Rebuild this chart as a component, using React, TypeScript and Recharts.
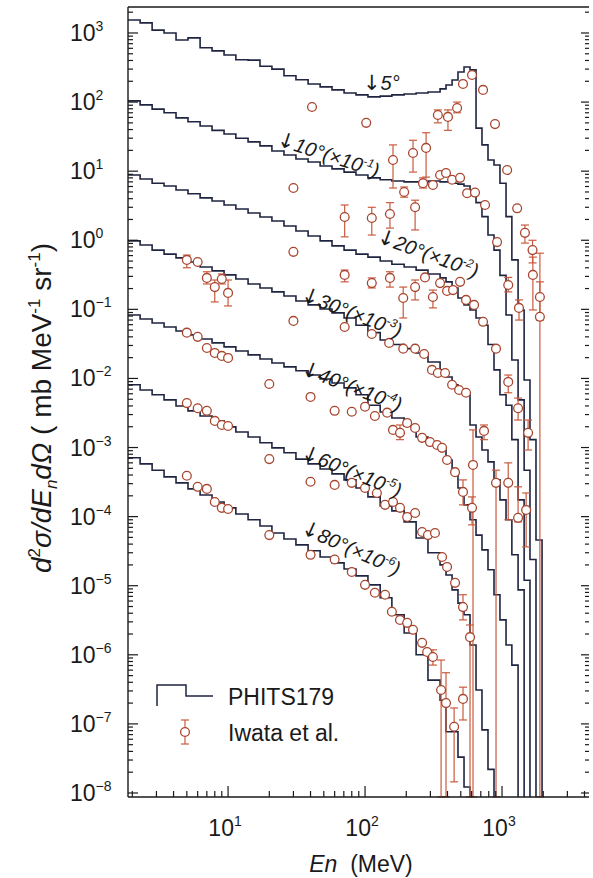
import React from 'react';
import { ComposedChart, Line, Scatter, XAxis, YAxis, ErrorBar } from 'recharts';

// bin edges of the PHITS histograms (MeV)
const EDGES = [1.86, 2.28, 2.79, 3.41, 4.17, 5.1, 6.25, 7.64, 9.35, 11.4, 14.0, 17.1, 20.9, 25.6, 31.3, 38.4, 47.0, 57.4, 70.3, 85.9, 105, 129, 157, 193, 236, 288, 353, 390, 432, 477, 528, 584, 646, 714, 790, 874, 966, 1070, 1180, 1310, 1450, 1600, 1770, 1960];

// PHITS179 histograms (mb/MeV/sr), scaled as labelled
const CALC_5 = [1540, 1400, 1100, 1000, 790, 850, 610, 550, 480, 410, 405, 330, 300, 240, 210, 183, 166, 150, 135, 127, 119, 122, 127, 131, 135, 140, 155, 177, 209, 273, 322, 292, 42, 24, 14.5, 12.3, 6.7, 2.2, 0.52, 0.098, 0.0095, 0.0013, 4.6e-5];
const CALC_10 = [104, 91, 79, 70, 59, 52, 45, 39, 34.5, 30, 26.5, 23.2, 19.6, 17.1, 15.0, 13.6, 11.9, 10.8, 9.7, 8.8, 8.0, 7.5, 7.2, 7.0, 7.0, 7.2, 7.0, 7.0, 6.7, 6.5, 6.1, 5.0, 3.5, 2.2, 1.19, 0.72, 0.31, 0.083, 0.0185, 0.0049, 4.7e-4, 2.4e-5];
const CALC_20 = [8.8, 7.7, 6.7, 6.1, 5.35, 4.7, 4.1, 3.7, 3.24, 2.84, 2.48, 2.17, 1.9, 1.61, 1.36, 1.15, 0.98, 0.83, 0.72, 0.63, 0.57, 0.5, 0.45, 0.41, 0.37, 0.325, 0.285, 0.25, 0.204, 0.146, 0.116, 0.098, 0.075, 0.059, 0.031, 0.0133, 0.0058, 0.0041, 0.0013, 1.75e-4, 1.2e-5];
const CALC_30 = [0.98, 0.855, 0.72, 0.63, 0.555, 0.485, 0.41, 0.36, 0.315, 0.275, 0.233, 0.204, 0.179, 0.156, 0.132, 0.116, 0.101, 0.089, 0.075, 0.059, 0.046, 0.036, 0.031, 0.027, 0.0234, 0.0173, 0.0133, 0.0105, 0.0081, 0.0068, 0.0058, 0.00212, 0.00142, 9.2e-4, 6.2e-4, 3.4e-4, 1.75e-4, 9.0e-5, 2.8e-5, 8.7e-6];
const CALC_40 = [0.083, 0.0726, 0.0635, 0.0556, 0.0486, 0.0427, 0.0373, 0.0327, 0.0286, 0.025, 0.0219, 0.0191, 0.0167, 0.0147, 0.0129, 0.0112, 0.0098, 0.0086, 0.0073, 0.0058, 0.0041, 0.00327, 0.00268, 0.00205, 0.00142, 0.00109, 9.2e-4, 6.6e-4, 4.4e-4, 2.6e-4, 1.48e-4, 9.0e-5, 5.4e-5, 3.3e-5, 1.7e-5, 7.4e-6, 3.2e-6, 1.39e-6, 7.1e-7];
const CALC_60 = [0.0081, 0.0068, 0.0058, 0.0049, 0.004, 0.00339, 0.00286, 0.00243, 0.00199, 0.00168, 0.00142, 0.00117, 9.9e-4, 8.4e-4, 6.8e-4, 5.8e-4, 4.9e-4, 4.15e-4, 3.4e-4, 2.6e-4, 1.93e-4, 1.43e-4, 1.21e-4, 8.4e-5, 4.9e-5, 3.0e-5, 2.0e-5, 1.43e-5, 8.7e-6, 5.6e-6, 3.8e-6, 1.39e-6, 3.1e-7, 8.2e-8, 2.2e-8];
const CALC_80 = [7.1e-4, 5.8e-4, 4.7e-4, 3.76e-4, 3.08e-4, 2.52e-4, 2.06e-4, 1.63e-4, 1.34e-4, 1.09e-4, 9.0e-5, 7.3e-5, 5.8e-5, 4.75e-5, 3.9e-5, 3.2e-5, 2.6e-5, 2.14e-5, 1.75e-5, 1.39e-5, 1.03e-5, 6.7e-6, 3.8e-6, 2.07e-6, 1.0e-6, 4.3e-7, 2.2e-7, 7.7e-8, 7.7e-8, 3.3e-8, 1.22e-8];

// Iwata et al. points: [E, value, lower, upper]; B = error bar down to zero
type Pt = [number, number, number?, number?];
const B = 8.8e-9;

const EXP_5: Pt[] = [[41, 85], [102, 50], [340, 65, 50, 77], [403, 61, 39, 77], [470, 82, 70, 100], [519, 183], [604, 247], [727, 150], [889, 48], [1090, 10.4], [1290, 2.9], [1470, 1.28, 0.91, 1.66], [1670, 0.72, 0.47, 1.0], [1890, 0.151, 0.07, 0.65]];
const EXP_10: Pt[] = [[30, 5.7], [71, 2.17, 1.12, 3.24], [112, 2.1, 1.19, 3.0], [152, 2.4, 1.5, 3.5], [160, 14.5, 5.7, 24], [193, 5.0, 4.2, 5.9], [224, 18.3, 9.7, 28], [232, 3.0, 1.41, 3.8], [265, 6.7, 5.7, 8.0], [279, 21.7, 8.2, 36], [313, 6.3], [353, 8.8], [390, 9.4], [432, 7.5], [494, 8.0], [556, 4.8], [635, 4.9], [752, 3.24], [920, 0.94], [1110, 0.225, 0.179, 0.29], [1330, 0.105, 0.07, 0.137], [1680, 0.315, 0.098, 0.57], [1890, 0.078, B, 0.25]];
const EXP_20: Pt[] = [[30, 0.68], [71, 0.315, 0.25, 0.37], [112, 0.24, 0.204, 0.285], [152, 0.285, 0.21, 0.35], [190, 0.146, 0.075, 0.21], [232, 0.21, 0.137, 0.266], [274, 0.29], [313, 0.151, 0.105, 0.19], [353, 0.24], [397, 0.185], [439, 0.19], [494, 0.25], [546, 0.137], [625, 0.116], [727, 0.066], [904, 0.027], [1110, 0.0089, 0.0062, 0.0112], [1310, 0.0037, 0.0025, 0.0052], [1550, 0.00163, 9.2e-4, 0.0025]];
const EXP_30: Pt[] = [[5, 0.52, 0.4, 0.61], [6, 0.485], [7, 0.285, 0.233, 0.35], [8, 0.21, 0.128, 0.266], [9, 0.275, 0.233, 0.325], [10, 0.173, 0.112, 0.266], [30, 0.068], [71, 0.0556], [112, 0.044], [150, 0.0327], [190, 0.027], [232, 0.027], [270, 0.0226], [308, 0.0133], [340, 0.012], [384, 0.012], [432, 0.0081], [486, 0.0068], [546, 0.0062], [614, 5.6e-4, B, 0.0018], [739, 0.00174, 0.0013, 0.00212], [904, 3.08e-4, B, 4.7e-4], [1110, 3.08e-4, 9.0e-5, 6.0e-4], [1310, 9.6e-5, 8.4e-5, 2.7e-4], [1500, 1.25e-4, 3.65e-5, 2.2e-4]];
const EXP_40: Pt[] = [[5, 0.046], [6, 0.04], [7, 0.0276], [8, 0.0234], [9, 0.0212], [10, 0.0198], [20, 0.0083], [40, 0.0054], [60, 0.0034], [80, 0.0033], [100, 0.0039], [118, 0.00286], [145, 0.0032], [160, 0.0018], [180, 0.00163, 0.0013, 0.00212], [203, 0.00227], [232, 0.00192], [261, 0.00138], [298, 0.0012], [336, 0.00109], [365, 9.9e-4], [397, 6.6e-4], [454, 4.4e-4], [519, 2.28e-4, 1.48e-4, 3.4e-4], [604, 1.34e-4, 7.6e-5, 1.93e-4]];
const EXP_60: Pt[] = [[5, 0.0044], [6, 0.0037], [7, 0.0034], [8, 0.00243], [9, 0.00212], [10, 0.00205], [20, 6.8e-4], [40, 3.2e-4], [60, 2.88e-4], [80, 3.08e-4], [100, 2.6e-4], [122, 2.2e-4], [140, 1.48e-4], [160, 1.63e-4], [180, 1.34e-4], [203, 9.9e-5], [232, 1.13e-4], [261, 6.0e-5], [288, 5.4e-5], [324, 5.8e-5], [365, 2.6e-5], [397, 1.87e-5], [454, 1.1e-5], [519, 4.9e-6, 3.2e-6, 7.4e-6], [584, 1.8e-6, B, 2.7e-6]];
const EXP_80: Pt[] = [[5, 3.9e-4], [6, 2.7e-4], [7, 2.52e-4], [8, 1.63e-4], [9, 1.34e-4], [10, 1.29e-4], [20, 5.4e-5], [40, 2.8e-5], [60, 2.4e-5], [80, 1.58e-5], [100, 1.03e-5], [118, 7.9e-6], [140, 7.4e-6], [157, 4.2e-6], [180, 3.2e-6], [203, 2.9e-6], [224, 2.3e-6], [261, 1.49e-6], [284, 1.1e-6], [313, 9.3e-7, 7.1e-7, 1.18e-6], [359, 3.1e-7, B, 8.4e-7], [390, 2.0e-7, B, 5.5e-7], [447, 9.1e-8, 1.45e-8, 1.7e-7], [519, 2.3e-7, 1.14e-7, 3.4e-7]];

const ANGLES = ['5°', '10°', '20°', '30°', '40°', '60°', '80°'];
const SCALE_EXP = ['', '-1', '-2', '-3', '-4', '-5', '-6'];

const X_DOMAIN = [1.86, 4315];
const Y_DOMAIN = [8.75e-9, 2377];
const X_TICKS = [2, 3, 4, 5, 6, 7, 8, 9, 10, 20, 30, 40, 50, 60, 70, 80, 90, 100, 200, 300, 400, 500, 600, 700, 800, 900, 1000, 2000, 3000, 4000];
const Y_DECADES = [1e-8, 1e-7, 1e-6, 1e-5, 1e-4, 1e-3, 1e-2, 1e-1, 1, 10, 100, 1000];
const MINORS = [2, 3, 4, 5, 6, 7, 8, 9];
const Y_TICKS = Y_DECADES.flatMap((d) => [d, ...MINORS.map((m) => m * d)]).filter((v) => v >= Y_DOMAIN[0] && v <= Y_DOMAIN[1]);

const HIST = '#1f2440';
const RING = '#a8452e';
const ERR = '#c95b3e';
const INK = '#1a1a1a';

const stepData = (vals: number[]) => [
  ...vals.map((v, i) => ({ e: EDGES[i], v })),
  { e: EDGES[vals.length], v: 1e-12 },
];
const expData = (pts: Pt[]) =>
  pts.map(([e, v, lo, hi]) => ({ e, v, err: lo != null && hi != null ? [v - lo, hi - v] : null }));

const isDecade = (v: number) => Math.abs(Math.log10(v) - Math.round(Math.log10(v))) < 1e-6;
const expText = (v: number) => {
  const p = Math.round(Math.log10(v));
  return p < 0 ? `\u2212${-p}` : `${p}`;
};

const BottomTick = (p: any) => {
  const v = p.payload.value;
  const major = isDecade(v);
  return (
    <g>
      <line x1={p.x} x2={p.x} y1={p.y} y2={p.y - (major ? 11 : 6)} stroke={INK} strokeWidth={1.2} />
      {major && (
        <text x={p.x - 3} y={p.y + 39} textAnchor="middle" fontSize={23} fill={INK}>
          10<tspan dy={-10} fontSize={14}>{expText(v)}</tspan>
        </text>
      )}
    </g>
  );
};
const TopTick = (p: any) => {
  const major = isDecade(p.payload.value);
  return <line x1={p.x} x2={p.x} y1={p.y} y2={p.y + (major ? 12 : 6)} stroke={INK} strokeWidth={1.2} />;
};
const LeftTick = (p: any) => {
  const v = p.payload.value;
  const major = isDecade(v);
  return (
    <g>
      <line x1={p.x} x2={p.x + (major ? 10 : 5)} y1={p.y} y2={p.y} stroke={INK} strokeWidth={1.2} />
      {major && (
        <text x={70} y={p.y + 8} fontSize={23} fill={INK}>
          10<tspan dy={-10} fontSize={14}>{expText(v)}</tspan>
        </text>
      )}
    </g>
  );
};
const RightTick = (p: any) => {
  const major = isDecade(p.payload.value);
  return <line x1={p.x - (major ? 8 : 4)} x2={p.x} y1={p.y} y2={p.y} stroke={INK} strokeWidth={1.2} />;
};

const Ring = (p: any) =>
  p.cx == null ? null : <circle cx={p.cx} cy={p.cy} r={4.4} fill="#fff" stroke={RING} strokeWidth={1.3} />;

// angle label placement: baseline start and rotation
const LABEL_POS = [
  [363, 90, 0],
  [276, 145, 18],
  [376, 242, 20],
  [300, 300, 21],
  [300, 374, 21],
  [300, 458, 22],
  [300, 533, 24],
];

const AXIS = { stroke: INK, strokeWidth: 1.4 };

export default function App() {
  const calcs = [CALC_5, CALC_10, CALC_20, CALC_30, CALC_40, CALC_60, CALC_80];
  const exps = [EXP_5, EXP_10, EXP_20, EXP_30, EXP_40, EXP_60, EXP_80];
  return (
    <div
      style={{
        position: 'absolute',
        left: 0,
        top: 0,
        width: 593,
        height: 878,
        overflow: 'hidden',
        background: '#fff',
        fontFamily: '"Liberation Sans", Arial, sans-serif',
      }}
    >
      <ComposedChart width={593} height={878} margin={{ top: 2, right: 0, bottom: 21, left: 0 }}>
        <XAxis
          xAxisId="b"
          dataKey="e"
          type="number"
          scale="log"
          domain={X_DOMAIN}
          allowDataOverflow
          ticks={X_TICKS}
          interval={0}
          tickSize={0}
          tickMargin={0}
          tickLine={false}
          height={60}
          axisLine={AXIS}
          tick={BottomTick}
        />
        <XAxis
          xAxisId="t"
          orientation="top"
          type="number"
          scale="log"
          domain={X_DOMAIN}
          allowDataOverflow
          ticks={X_TICKS}
          interval={0}
          tickSize={0}
          tickMargin={0}
          tickLine={false}
          height={5}
          axisLine={AXIS}
          tick={TopTick}
        />
        <YAxis
          yAxisId="l"
          dataKey="v"
          type="number"
          scale="log"
          domain={Y_DOMAIN}
          allowDataOverflow
          ticks={Y_TICKS}
          interval={0}
          tickSize={0}
          tickMargin={0}
          tickLine={false}
          width={128}
          axisLine={AXIS}
          tick={LeftTick}
        />
        <YAxis
          yAxisId="r"
          orientation="right"
          type="number"
          scale="log"
          domain={Y_DOMAIN}
          allowDataOverflow
          ticks={Y_TICKS}
          interval={0}
          tickSize={0}
          tickMargin={0}
          tickLine={false}
          width={4}
          axisLine={false}
          tick={RightTick}
        />
        {calcs.map((c, i) => (
          <Line
            key={'calc' + i}
            xAxisId="b"
            yAxisId="l"
            data={stepData(c)}
            dataKey="v"
            type="stepAfter"
            stroke={HIST}
            strokeWidth={1.6}
            dot={false}
            activeDot={false}
            isAnimationActive={false}
          />
        ))}
        {exps.map((p, i) => (
          <Scatter key={'exp' + i} xAxisId="b" yAxisId="l" data={expData(p)} shape={Ring} isAnimationActive={false}>
            <ErrorBar dataKey="err" direction="y" width={4} stroke={ERR} strokeWidth={1.2} isAnimationActive={false} />
          </Scatter>
        ))}
      </ComposedChart>

      <svg width={593} height={878} style={{ position: 'absolute', left: 0, top: 0, pointerEvents: 'none' }}>
        {ANGLES.map((a, i) => {
          const [x, y, r] = LABEL_POS[i];
          return (
            <text key={a} transform={`translate(${x},${y}) rotate(${r})`} fontSize={20} fontStyle="italic" fill={INK}>
              <tspan fontSize={21} fontStyle="normal" fontFamily="DejaVu Sans">{'\u2193'}</tspan>
              <tspan>{a}</tspan>
              {SCALE_EXP[i] && (
                <>
                  <tspan>(×10</tspan>
                  <tspan dy={-8} fontSize={12}>{SCALE_EXP[i]}</tspan>
                  <tspan dy={8}>)</tspan>
                </>
              )}
            </text>
          );
        })}

        <text transform="translate(51,408) rotate(-90)" textAnchor="middle" fontSize={28} fill={INK}>
          <tspan fontStyle="italic">d</tspan>
          <tspan dy={-11} fontSize={17}>2</tspan>
          <tspan dy={11} fontStyle="italic">σ/dE</tspan>
          <tspan dy={6} fontSize={17} fontStyle="italic">n</tspan>
          <tspan dy={-6} fontStyle="italic">dΩ</tspan>
          <tspan>{'\u00a0( mb MeV'}</tspan>
          <tspan dy={-11} fontSize={17}>-1</tspan>
          <tspan dy={11}>{'\u00a0sr'}</tspan>
          <tspan dy={-11} fontSize={17}>-1</tspan>
          <tspan dy={11}>)</tspan>
        </text>

        <text x={361} y={872} textAnchor="middle" fontSize={23} fill={INK}>
          <tspan fontStyle="italic">En</tspan>
          <tspan>{'\u00a0\u00a0(MeV)'}</tspan>
        </text>

        <path d="M157,706 V685 H186 V696 H213" fill="none" stroke={HIST} strokeWidth={1.5} />
        <text x={228} y={705} fontSize={23} fill={INK}>PHITS179</text>
        <line x1={185} x2={185} y1={720} y2={744} stroke={ERR} strokeWidth={1.2} />
        <line x1={181} x2={189} y1={720} y2={720} stroke={ERR} strokeWidth={1.2} />
        <line x1={181} x2={189} y1={744} y2={744} stroke={ERR} strokeWidth={1.2} />
        <circle cx={185} cy={732} r={4.4} fill="#fff" stroke={RING} strokeWidth={1.3} />
        <text x={228} y={741} fontSize={23} fill={INK}>Iwata et al.</text>
      </svg>
    </div>
  );
}
